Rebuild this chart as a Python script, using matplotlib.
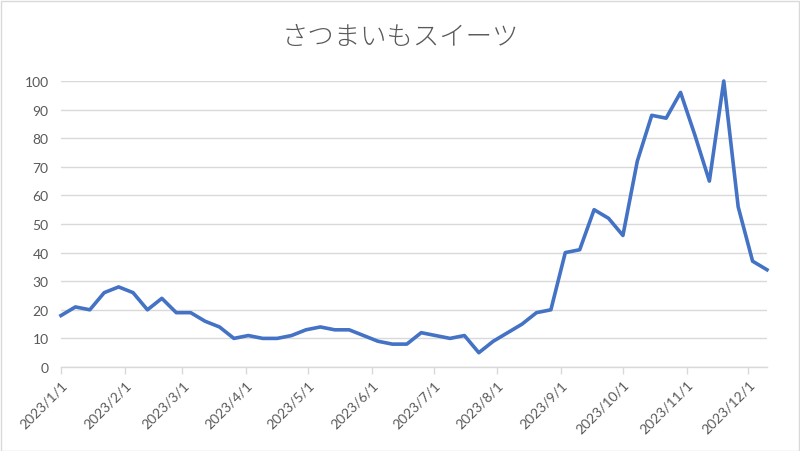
import matplotlib.pyplot as plt
import matplotlib.dates as mdates
import pandas as pd
from matplotlib.patches import Rectangle

# weekly values, 2023/1/1 - 2023/12/10
dates = pd.date_range("2023-01-01", periods=50, freq="7D")
values = [18, 21, 20, 26, 28, 26, 20, 24, 19, 19,
          16, 14, 10, 11, 10, 10, 11, 13, 14, 13,
          13, 11, 9, 8, 8, 12, 11, 10, 11, 5,
          9, 12, 15, 19, 20, 40, 41, 55, 52, 46,
          72, 88, 87, 96, 81, 65, 100, 56, 37, 34]
title = "さつまいもスイーツ"
yticks = list(range(0, 101, 10))

textgray = "#595959"
gridgray = "#d9d9d9"

fig = plt.figure(figsize=(8, 4.52), dpi=100, facecolor="white")
ax = fig.add_axes([61 / 800, 1 - 368 / 452, (767 - 61) / 800, (368 - 82) / 452])

ax.plot(dates, values, color="#4472C4", linewidth=2.6, clip_on=False,
        solid_joinstyle="round", zorder=3)

ax.set_ylim(0, 100)
ax.set_xlim(dates[0], dates[-1])
ax.set_yticks(yticks)
ax.grid(axis="y", color=gridgray, linewidth=1)
ax.set_axisbelow(True)

for s in ["top", "right", "left"]:
    ax.spines[s].set_visible(False)
ax.spines["bottom"].set_color(gridgray)
ax.spines["bottom"].set_linewidth(1)

ax.xaxis.set_major_locator(mdates.MonthLocator())
ax.xaxis.set_major_formatter(
    plt.FuncFormatter(lambda v, p: "{0}/{1}/{2}".format(*[mdates.num2date(v).year, mdates.num2date(v).month, mdates.num2date(v).day])))

ax.tick_params(axis="y", length=0, pad=9, labelsize=10, labelcolor=textgray)
ax.tick_params(axis="x", length=5, color=gridgray, width=1, pad=3,
               labelsize=10, labelcolor=textgray)
for lab in ax.get_xticklabels():
    lab.set_rotation(45)
    lab.set_ha("right")
    lab.set_rotation_mode("anchor")
for lab in ax.get_xticklabels() + ax.get_yticklabels():
    lab.set_family(["Lato", "DejaVu Sans"])

fig.text(0.5, 1 - 37 / 452, title, ha="center", va="center", fontsize=19,
         color=textgray, family=["Noto Sans CJK JP", "DejaVu Sans"], fontweight="light")

fig.patches.append(Rectangle((0.5 / 800, 0.5 / 452), 798 / 800, 450 / 452,
                             transform=fig.transFigure, fill=False,
                             edgecolor=gridgray, linewidth=1))

fig.savefig("out.png", dpi=100)
